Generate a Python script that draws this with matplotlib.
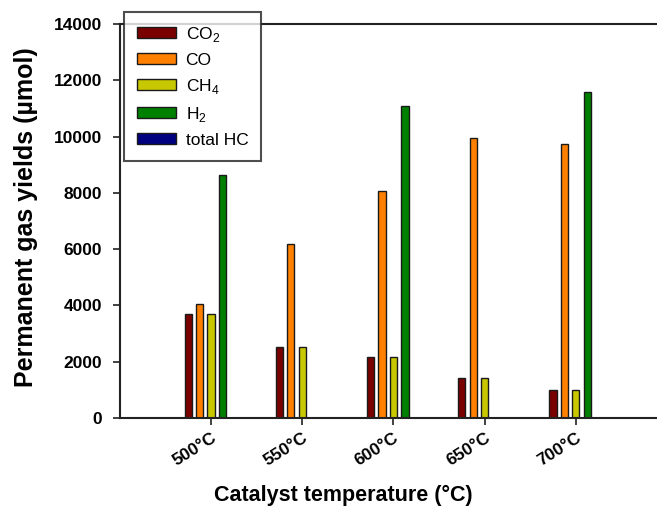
import numpy as np
import matplotlib
matplotlib.use("Agg")
from matplotlib import pyplot as plt

plt.rcParams['font.family'] = ['Liberation Sans', 'DejaVu Sans']
plt.rcParams['mathtext.fontset'] = 'custom'
plt.rcParams['mathtext.rm'] = 'Liberation Sans'

temps = ['500°C', '550°C', '600°C', '650°C', '700°C']
gases = ['CO$_2$', 'CO', 'CH$_4$', 'H$_2$', 'total HC']
co2 = [3700, 2530, 2180, 1410, 1000]
co = [4050, 6180, 8050, 9940, 9720]
ch4 = [3700, 2530, 2180, 1410, 1000]
h2 = [8650, 0, 11100, 0, 11600]
total_hc = [0, 0, 0, 0, 0]
colors = ['#7a0000', '#ff8000', '#c8c800', '#008000', '#000080']


def main():
    fig = plt.figure(figsize=(6.57, 5.07), dpi=100)
    ax = fig.add_axes([0.1826, 0.1755, 0.8174, 0.7772])

    x = np.arange(len(temps))
    step = 0.126
    width = 0.08
    series = [co2, co, ch4, h2, total_hc]
    for i, (vals, name, col) in enumerate(zip(series, gases, colors)):
        ax.bar(x + (i - 2) * step, vals, width, color=col, edgecolor='#1a1a1a',
               linewidth=1.0, label=name)

    ax.set_xlim(-1.0, 4.89)
    ax.set_ylim(0, 14000)
    ax.set_yticks(range(0, 14001, 2000))
    ax.set_xticks(x)
    ax.set_xticklabels(temps, rotation=32, ha='right', rotation_mode='anchor',
                       fontsize=12.5, fontweight='bold')
    for lab in ax.get_yticklabels():
        lab.set_fontsize(12.5)
        lab.set_fontweight('bold')
    ax.tick_params(direction='out', length=5, width=1.2, color='#222222')
    ax.tick_params(axis='y', pad=8)

    for side in ['left', 'bottom', 'top']:
        ax.spines[side].set_linewidth(1.5)
        ax.spines[side].set_color('#222222')
    ax.spines['right'].set_visible(False)

    ax.set_xlabel('Catalyst temperature (°C)', fontsize=15.5, fontweight='bold')
    ax.xaxis.set_label_coords(0.415, -0.17)
    ax.set_ylabel('Permanent gas yields (µmol)', fontsize=18,
                  fontweight='bold')
    ax.yaxis.set_label_coords(-0.153, 0.51)

    leg = fig.legend(loc='upper left', bbox_to_anchor=(0.1887, 0.977),
                     fontsize=12.5, frameon=True, fancybox=False,
                     handlelength=2.25, handleheight=0.6, labelspacing=0.52,
                     borderpad=0.75, handletextpad=0.55, borderaxespad=0)
    leg.get_frame().set_edgecolor('#222222')
    leg.get_frame().set_linewidth(1.5)
    leg.set_zorder(5)

    fig.savefig('out.png', dpi=100)


main()
